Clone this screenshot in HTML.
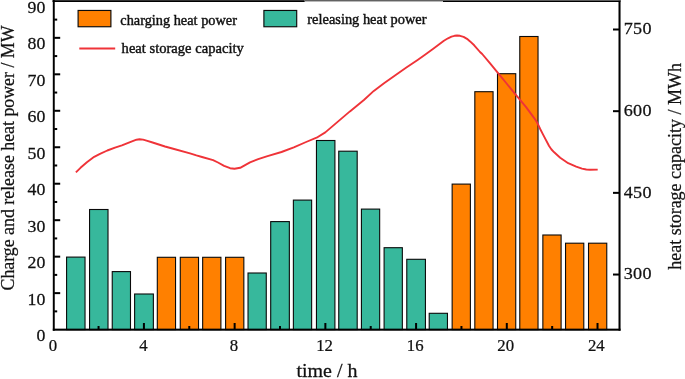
<!DOCTYPE html>
<html><head><meta charset="utf-8"><title>chart</title>
<style>
html,body{margin:0;padding:0;background:#fff;}
svg{display:block;font-family:"Liberation Serif",serif;fill:#111;}
text{stroke:#111;stroke-width:0.25px;}
</style></head><body>
<svg width="685" height="379" viewBox="0 0 685 379">
<rect x="0" y="0" width="685" height="379" fill="#fff"/>
<g>
<rect x="66.58" y="257.10" width="18.45" height="72.50" fill="#37B89C" stroke="#0a0a0a" stroke-width="1.1"/>
<rect x="89.56" y="209.50" width="18.45" height="120.10" fill="#37B89C" stroke="#0a0a0a" stroke-width="1.1"/>
<rect x="112.24" y="271.60" width="18.25" height="58.00" fill="#37B89C" stroke="#0a0a0a" stroke-width="1.1"/>
<rect x="134.62" y="294.00" width="18.75" height="35.60" fill="#37B89C" stroke="#0a0a0a" stroke-width="1.1"/>
<rect x="157.30" y="257.30" width="18.25" height="72.30" fill="#FF8000" stroke="#0a0a0a" stroke-width="1.1"/>
<rect x="180.28" y="257.30" width="18.25" height="72.30" fill="#FF8000" stroke="#0a0a0a" stroke-width="1.1"/>
<rect x="202.66" y="257.30" width="18.25" height="72.30" fill="#FF8000" stroke="#0a0a0a" stroke-width="1.1"/>
<rect x="225.59" y="257.30" width="18.25" height="72.30" fill="#FF8000" stroke="#0a0a0a" stroke-width="1.1"/>
<rect x="248.02" y="273.00" width="18.25" height="56.60" fill="#37B89C" stroke="#0a0a0a" stroke-width="1.1"/>
<rect x="270.70" y="221.60" width="18.65" height="108.00" fill="#37B89C" stroke="#0a0a0a" stroke-width="1.1"/>
<rect x="293.38" y="200.10" width="18.25" height="129.50" fill="#37B89C" stroke="#0a0a0a" stroke-width="1.1"/>
<rect x="316.46" y="140.50" width="18.45" height="189.10" fill="#37B89C" stroke="#0a0a0a" stroke-width="1.1"/>
<rect x="338.74" y="151.20" width="18.45" height="178.40" fill="#37B89C" stroke="#0a0a0a" stroke-width="1.1"/>
<rect x="361.42" y="209.10" width="18.25" height="120.50" fill="#37B89C" stroke="#0a0a0a" stroke-width="1.1"/>
<rect x="384.10" y="247.70" width="18.25" height="81.90" fill="#37B89C" stroke="#0a0a0a" stroke-width="1.1"/>
<rect x="406.78" y="259.30" width="18.65" height="70.30" fill="#37B89C" stroke="#0a0a0a" stroke-width="1.1"/>
<rect x="429.21" y="313.30" width="18.25" height="16.30" fill="#37B89C" stroke="#0a0a0a" stroke-width="1.1"/>
<rect x="452.14" y="184.10" width="18.25" height="145.50" fill="#FF8000" stroke="#0a0a0a" stroke-width="1.1"/>
<rect x="474.82" y="91.70" width="18.25" height="237.90" fill="#FF8000" stroke="#0a0a0a" stroke-width="1.1"/>
<rect x="497.50" y="73.70" width="18.25" height="255.90" fill="#FF8000" stroke="#0a0a0a" stroke-width="1.1"/>
<rect x="519.78" y="36.50" width="18.25" height="293.10" fill="#FF8000" stroke="#0a0a0a" stroke-width="1.1"/>
<rect x="542.86" y="235.00" width="18.25" height="94.60" fill="#FF8000" stroke="#0a0a0a" stroke-width="1.1"/>
<rect x="565.54" y="243.20" width="18.25" height="86.40" fill="#FF8000" stroke="#0a0a0a" stroke-width="1.1"/>
<rect x="588.52" y="243.20" width="18.25" height="86.40" fill="#FF8000" stroke="#0a0a0a" stroke-width="1.1"/>
<g fill="#000">
<rect x="52.8" y="0" width="1.95" height="330.7"/>
<rect x="618.5" y="0" width="2.05" height="330.7"/>
<rect x="52.8" y="328.65" width="567.75" height="2.05"/>
<rect x="52.5" y="0.2" width="252.2" height="1.8"/>
<rect x="304.7" y="0" width="138.3" height="1.45" fill="#626262"/>
<rect x="443" y="0" width="177.4" height="0.9" fill="#666"/>
<rect x="443" y="0.8" width="177.4" height="1.2"/>
<rect x="54.2" y="310.37" width="3" height="2"/>
<rect x="54.2" y="292.13" width="6" height="2"/>
<rect x="54.2" y="273.90" width="3" height="2"/>
<rect x="54.2" y="255.66" width="6" height="2"/>
<rect x="54.2" y="237.43" width="3" height="2"/>
<rect x="54.2" y="219.19" width="6" height="2"/>
<rect x="54.2" y="200.96" width="3" height="2"/>
<rect x="54.2" y="182.72" width="6" height="2"/>
<rect x="54.2" y="164.49" width="3" height="2"/>
<rect x="54.2" y="146.25" width="6" height="2"/>
<rect x="54.2" y="128.02" width="3" height="2"/>
<rect x="54.2" y="109.78" width="6" height="2"/>
<rect x="54.2" y="91.55" width="3" height="2"/>
<rect x="54.2" y="73.31" width="6" height="2"/>
<rect x="54.2" y="55.08" width="3" height="2"/>
<rect x="54.2" y="36.84" width="6" height="2"/>
<rect x="54.2" y="18.61" width="3" height="2"/>
<rect x="613" y="28.50" width="6" height="2"/>
<rect x="613" y="110.18" width="6" height="2"/>
<rect x="613" y="191.86" width="6" height="2"/>
<rect x="613" y="273.54" width="6" height="2"/>
<rect x="97.56" y="326.00" width="2" height="3.5"/>
<rect x="142.92" y="323.00" width="2" height="6.5"/>
<rect x="188.28" y="326.00" width="2" height="3.5"/>
<rect x="233.64" y="323.00" width="2" height="6.5"/>
<rect x="279.00" y="326.00" width="2" height="3.5"/>
<rect x="324.36" y="323.00" width="2" height="6.5"/>
<rect x="369.72" y="326.00" width="2" height="3.5"/>
<rect x="415.08" y="323.00" width="2" height="6.5"/>
<rect x="460.44" y="326.00" width="2" height="3.5"/>
<rect x="505.80" y="323.00" width="2" height="6.5"/>
<rect x="551.16" y="326.00" width="2" height="3.5"/>
<rect x="596.52" y="323.00" width="2" height="6.5"/>
</g>
<polyline points="75.9,172.4 80.5,167.8 86.9,162.2 94.2,156.8 100,153.8 107.3,150.5 115,147.6 121.9,145.4 130.7,141.8 136.5,139.7 139.5,139.3 143.1,139.6 146.5,140.6 152.6,142.5 165,146.5 172.3,148.5 190,153.3 196.4,155.4 202,157.0 213.1,160.2 218,162.5 224.1,165.8 230.1,168.2 234.5,168.8 240.2,167.8 250,162.4 258.2,159.1 267.5,156.1 281.5,152 293.8,147.3 306.1,142 316.6,137.7 325.3,132.4 337.6,121.9 349.9,111.4 363.9,100 373.8,90.9 384,83.2 395.7,74.9 406,67.8 417.6,60 425,54.8 432.9,49.1 443.9,40.8 448,38.3 451.5,36.6 454.5,35.8 457,35.5 460,35.8 463.6,36.9 467,38.8 470.1,41.4 474.2,45.3 480,52.0 482.2,54 490.3,63.6 498.3,73.4 506.2,83 516.1,95.1 526.1,107.1 534.2,118.1 537.1,122.5 540.2,129 543.1,134.6 549.1,146 551.5,149.5 554.2,152.3 560.2,157.7 568.2,163.2 576.2,166.6 582,168.6 586.3,169.5 590,169.7 597.7,169.6" fill="none" stroke="#EF3338" stroke-width="1.9" stroke-linejoin="round"/>
<text transform="translate(45.30,341.20) scale(1.03,1)" font-size="17.3" text-anchor="end">0</text>
<text transform="translate(45.30,304.73) scale(1.03,1)" font-size="17.3" text-anchor="end">10</text>
<text transform="translate(45.30,268.26) scale(1.03,1)" font-size="17.3" text-anchor="end">20</text>
<text transform="translate(45.30,231.79) scale(1.03,1)" font-size="17.3" text-anchor="end">30</text>
<text transform="translate(45.30,195.32) scale(1.03,1)" font-size="17.3" text-anchor="end">40</text>
<text transform="translate(45.30,158.85) scale(1.03,1)" font-size="17.3" text-anchor="end">50</text>
<text transform="translate(45.30,122.38) scale(1.03,1)" font-size="17.3" text-anchor="end">60</text>
<text transform="translate(45.30,85.91) scale(1.03,1)" font-size="17.3" text-anchor="end">70</text>
<text transform="translate(45.30,49.44) scale(1.03,1)" font-size="17.3" text-anchor="end">80</text>
<text transform="translate(45.30,12.97) scale(1.03,1)" font-size="17.3" text-anchor="end">90</text>
<text transform="translate(623.70,34.40) scale(1.03,1)" font-size="17.6" letter-spacing="0.3">750</text>
<text transform="translate(623.70,116.08) scale(1.03,1)" font-size="17.6" letter-spacing="0.3">600</text>
<text transform="translate(623.70,197.76) scale(1.03,1)" font-size="17.6" letter-spacing="0.3">450</text>
<text transform="translate(623.70,279.44) scale(1.03,1)" font-size="17.6" letter-spacing="0.3">300</text>
<text transform="translate(52.90,351.00) scale(0.97,1)" font-size="17.3" text-anchor="middle">0</text>
<text transform="translate(143.46,351.00) scale(0.97,1)" font-size="17.3" text-anchor="middle">4</text>
<text transform="translate(234.02,351.00) scale(0.97,1)" font-size="17.3" text-anchor="middle">8</text>
<text transform="translate(324.58,351.00) scale(0.97,1)" font-size="17.3" text-anchor="middle">12</text>
<text transform="translate(415.14,351.00) scale(0.97,1)" font-size="17.3" text-anchor="middle">16</text>
<text transform="translate(505.70,351.00) scale(0.97,1)" font-size="17.3" text-anchor="middle">20</text>
<text transform="translate(596.26,351.00) scale(0.97,1)" font-size="17.3" text-anchor="middle">24</text>
<text transform="translate(326.90,377.20) scale(1.03,1)" font-size="19.4" text-anchor="middle">time / h</text>
<text transform="translate(13.90,158.00) rotate(-90) scale(1,1.0)" font-size="17.83" text-anchor="middle">Charge and release heat power / MW</text>
<text transform="translate(680.60,166.40) rotate(-90) scale(1,1.0)" font-size="18" text-anchor="middle">heat storage capacity / MWh</text>
<rect x="78.1" y="10.45" width="32.8" height="16.3" fill="#FF8000" stroke="#0a0a0a" stroke-width="1.15"/>
<rect x="263.9" y="10.45" width="32.8" height="16.3" fill="#37B89C" stroke="#0a0a0a" stroke-width="1.15"/>
<line x1="79.3" y1="48.5" x2="115.2" y2="48.5" stroke="#EF3338" stroke-width="1.9"/>
<text transform="translate(120.30,24.55) scale(1.03,1)" font-size="13.9" style="stroke-width:0.4px">charging heat power</text>
<text transform="translate(307.30,23.90) scale(1.03,1)" font-size="14.0" style="stroke-width:0.4px">releasing heat power</text>
<text transform="translate(121.60,53.20) scale(1.03,1)" font-size="14.15" style="stroke-width:0.4px">heat storage capacity</text>
</g></svg></body></html>
